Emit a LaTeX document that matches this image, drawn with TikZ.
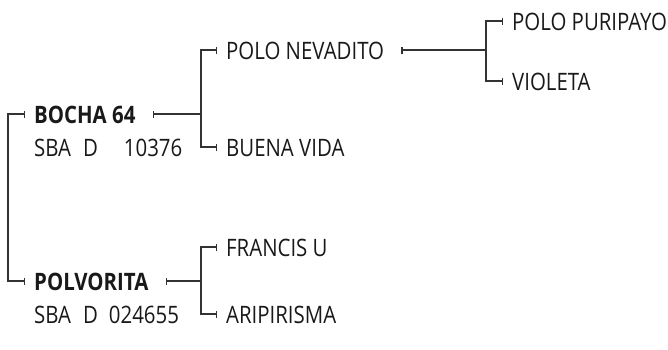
\documentclass[tikz,border=0pt]{standalone}
\usepackage{fontspec}
\setmainfont{Open Sans}[FakeStretch=0.85]
\usetikzlibrary{arrows.meta}
\begin{document}
\begin{tikzpicture}[x=1pt,y=-1pt,
  lbl/.style={anchor=west, inner sep=0pt, font=\fontsize{24}{29}\selectfont, text=black!90, text height=17pt, text depth=0pt},
  pname/.style={lbl, font=\fontsize{24}{29}\selectfont\bfseries},
  tree/.style={draw=black!80, line width=1.3pt},
  tk/.tip={Bar[width=7pt, line width=1.3pt]}
]
\useasboundingbox (0,0) rectangle (668,349);
% labels
\node[pname] (bocha) at (34,115) {BOCHA 64};
\node[lbl] (bochareg) at (34,148) {SBA\hspace{12pt}D\hspace{26pt}10376};
\node[pname] (polv) at (34,282) {POLVORITA};
\node[lbl] (polvreg) at (34,315) {SBA\hspace{12pt}D\hspace{11pt}024655};
\node[lbl] (nev) at (226,51) {POLO NEVADITO};
\node[lbl] (buena) at (226,148) {BUENA VIDA};
\node[lbl] (francis) at (226,248) {FRANCIS U};
\node[lbl] (ari) at (226,315) {ARIPIRISMA};
\node[lbl] (puri) at (512,22) {POLO PURIPAYO};
\node[lbl] (violeta) at (512,82) {VIOLETA};
% junction columns
\coordinate (rootx) at (8,0);
\coordinate (jx) at (201,0);
\coordinate (nx) at (486,0);
% root bracket
\draw[tree,tk-tk] ([xshift=-9pt,yshift=1pt]bocha.west) -| ([yshift=1pt]rootx |- polv.west) -- ([xshift=-9pt,yshift=1pt]polv.west);
% BOCHA 64
\draw[tree,tk-] ([xshift=17pt,yshift=1pt]bocha.east) -- ([yshift=1pt]jx |- bocha.east);
\draw[tree,-tk] ([yshift=1pt]jx |- bocha.east) |- ([xshift=-9pt,yshift=1pt]nev.west);
\draw[tree,-tk] ([yshift=1pt]jx |- bocha.east) |- ([xshift=-9pt,yshift=1pt]buena.west);
% POLVORITA
\draw[tree,tk-] ([xshift=17pt,yshift=1pt]polv.east) -- ([yshift=1pt]jx |- polv.east);
\draw[tree,-tk] ([yshift=1pt]jx |- polv.east) |- ([xshift=-9pt,yshift=1pt]francis.west);
\draw[tree,-tk] ([yshift=1pt]jx |- polv.east) |- ([xshift=-9pt,yshift=1pt]ari.west);
% POLO NEVADITO
\draw[tree,tk-] ([xshift=17pt,yshift=1pt]nev.east) -- ([yshift=1pt]nx |- nev.east);
\draw[tree,-tk] ([yshift=1pt]nx |- nev.east) |- ([xshift=-9pt,yshift=1pt]puri.west);
\draw[tree,-tk] ([yshift=1pt]nx |- nev.east) |- ([xshift=-9pt,yshift=1pt]violeta.west);
\end{tikzpicture}
\end{document}
